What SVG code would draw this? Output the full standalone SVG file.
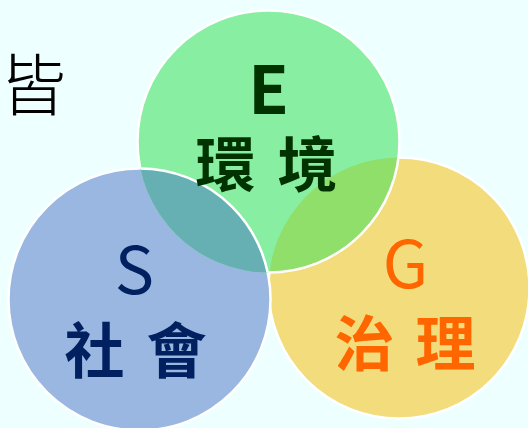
<svg xmlns="http://www.w3.org/2000/svg" width="528" height="428" viewBox="0 0 528 428">
  <style>
    .ring { fill: none; stroke: #ffffff; stroke-width: 2.5; }
    .cjk { font-family: "Noto Sans CJK TC", "Noto Sans CJK SC", sans-serif; text-anchor: middle; }
    .big { font-size: 60px; font-weight: bold; }
    .lat { font-size: 66px; }
  </style>
  <defs>
    <clipPath id="clipG"><circle cx="399" cy="288" r="130.5"/></clipPath>
    <clipPath id="clipS"><circle cx="139.5" cy="299.5" r="131"/></clipPath>
    <clipPath id="clipE"><circle cx="268.5" cy="141.5" r="131"/></clipPath>
    <mask id="outsideS">
      <rect x="0" y="0" width="528" height="428" fill="#fff"/>
      <circle cx="139.5" cy="299.5" r="131" fill="#000"/>
    </mask>
  </defs>
  <rect x="0" y="0" width="528" height="428" fill="#EEFFFF"/>
  <text class="cjk" x="33" y="110" font-size="67" font-weight="300" fill="#000000">皆</text>

  <g id="node-G">
    <circle cx="399" cy="288" r="130.5" fill="#F2DC7C"/>
    <circle class="ring" cx="399" cy="288" r="130.5"/>
    <text class="cjk lat" x="405.5" y="288" fill="#FF6600">G</text>
    <text class="cjk big" x="364.5" y="366" fill="#FF6600">治</text>
    <text class="cjk big" x="445.5" y="366" fill="#FF6600">理</text>
  </g>

  <g id="node-S">
    <circle cx="139.5" cy="299.5" r="131" fill="#99B7E0"/>
    <circle cx="139.5" cy="299.5" r="131" fill="#A0AEA8" clip-path="url(#clipG)"/>
    <circle class="ring" cx="139.5" cy="299.5" r="131"/>
    <text class="cjk lat" x="134.5" y="294" fill="#002060">S</text>
    <text class="cjk big" x="94.5" y="373" fill="#002060">社</text>
    <text class="cjk big" x="176.5" y="373" fill="#002060">會</text>
  </g>

  <g id="node-E">
    <circle cx="268.5" cy="141.5" r="131" fill="#88EFA2"/>
    <circle cx="268.5" cy="141.5" r="131" fill="#90DF6A" clip-path="url(#clipG)"/>
    <circle cx="268.5" cy="141.5" r="131" fill="#66B0B4" clip-path="url(#clipS)"/>
    <circle class="ring" cx="268.5" cy="141.5" r="131" mask="url(#outsideS)"/>
    <circle class="ring" cx="139.5" cy="299.5" r="131" clip-path="url(#clipE)"/>
    <text class="cjk lat" x="268.5" y="114" font-weight="bold" fill="#003300">E</text>
    <text class="cjk big" x="225.5" y="187" fill="#003300">環</text>
    <text class="cjk big" x="307.5" y="187" fill="#003300">境</text>
  </g>
</svg>
